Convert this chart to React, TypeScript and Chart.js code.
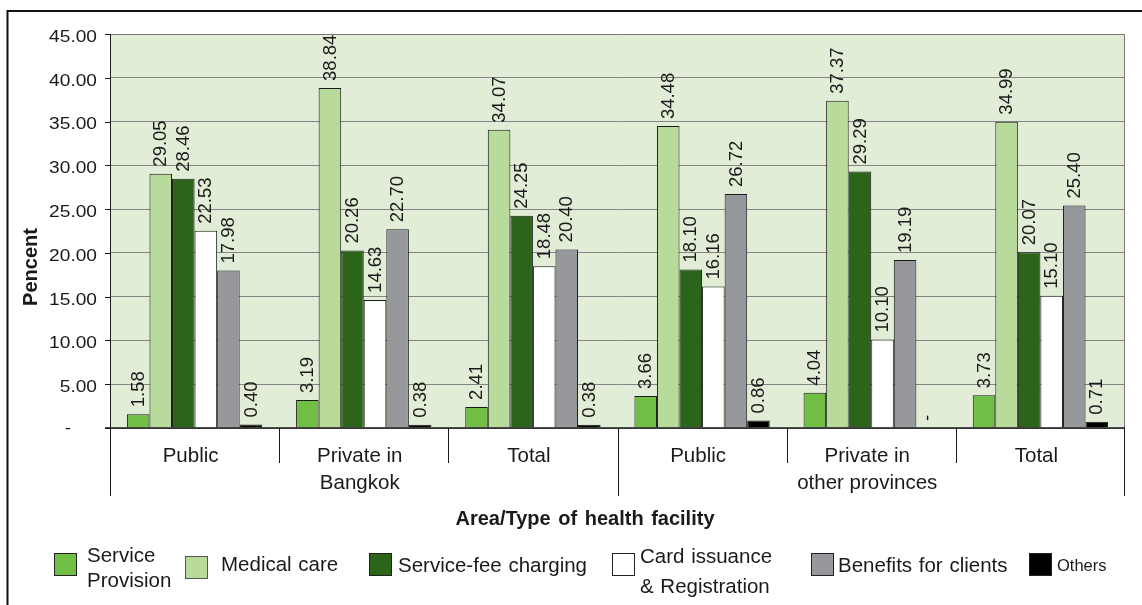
import React, { useEffect, useRef } from "react";
import { Chart, registerables } from "chart.js";

Chart.register(...registerables);

// ---------- data ----------
const CATEGORIES = [
  "Public",
  "Private in Bangkok",
  "Total",
  "Public",
  "Private in other provinces",
  "Total",
];
const CATEGORY_LINES = [
  ["Public"],
  ["Private in", "Bangkok"],
  ["Total"],
  ["Public"],
  ["Private in", "other provinces"],
  ["Total"],
];
const GROUP_BOUNDARIES = [0, 3, 6];

const SERIES_NAMES = [
  "Service Provision",
  "Medical care",
  "Service-fee charging",
  "Card issuance & Registration",
  "Benefits for clients",
  "Others",
];
const LEGEND_LINES = [
  ["Service", "Provision"],
  ["Medical care"],
  ["Service-fee charging"],
  ["Card issuance", "& Registration"],
  ["Benefits for clients"],
  ["Others"],
];

const SERVICE_PROVISION = [1.58, 3.19, 2.41, 3.66, 4.04, 3.73];
const MEDICAL_CARE = [29.05, 38.84, 34.07, 34.48, 37.37, 34.99];
const SERVICE_FEE = [28.46, 20.26, 24.25, 18.1, 29.29, 20.07];
const CARD_ISSUANCE = [22.53, 14.63, 18.48, 16.16, 10.1, 15.1];
const BENEFITS = [17.98, 22.7, 20.4, 26.72, 19.19, 25.4];
const OTHERS = [0.4, 0.38, 0.38, 0.86, 0, 0.71];

const Y_TICKS = [0, 5, 10, 15, 20, 25, 30, 35, 40, 45];
const Y_TITLE = "Pencent";
const X_TITLE = "Area/Type of health facility";

// ---------- styles ----------
const COLORS = ["#71BE45", "#B8DA9B", "#2C6419", "#FFFFFF", "#97989B", "#000000"];
const FONT = '"Liberation Sans", Arial, Helvetica, sans-serif';
const PLOT_BG = "#E1EDD6";
const GRID = "#858585";
const INK = "#1a1a1a";

// legend layout (box x, box y, text x, text cap-centre ys, font size)
const LEGEND_LAYOUT = [
  { bx: 54, by: 553, tx: 87, ty: [555, 580], size: 20.5 },
  { bx: 185, by: 556, tx: 221, ty: [564], size: 20.5 },
  { bx: 369, by: 553, tx: 398, ty: [564.5], size: 20.5 },
  { bx: 612, by: 553, tx: 640, ty: [556, 586], size: 20.5 },
  { bx: 811, by: 553, tx: 838, ty: [564.5], size: 20.5 },
  { bx: 1029, by: 553, tx: 1057, ty: [565], size: 16.5 },
];

function text(
  ctx: CanvasRenderingContext2D,
  s: string,
  x: number,
  capCenterY: number,
  size: number,
  opts: { bold?: boolean; align?: CanvasTextAlign; hscale?: number; color?: string; wordSpacing?: string } = {}
) {
  ctx.save();
  ctx.font = `${opts.bold ? "bold " : ""}${size}px ${FONT}`;
  ctx.fillStyle = opts.color || INK;
  ctx.textAlign = opts.align || "left";
  ctx.textBaseline = "alphabetic";
  if (opts.wordSpacing) (ctx as any).wordSpacing = opts.wordSpacing;
  ctx.translate(x, capCenterY + 0.358 * size);
  if (opts.hscale) ctx.scale(opts.hscale, 1);
  ctx.fillText(s, 0, 0);
  ctx.restore();
}

const decorPlugin = {
  id: "decor",
  beforeDraw(chart: any) {
    const { ctx, chartArea } = chart;
    ctx.save();
    ctx.fillStyle = PLOT_BG;
    ctx.fillRect(chartArea.left, chartArea.top, chartArea.right - chartArea.left, chartArea.bottom - chartArea.top);
    ctx.restore();
  },
  afterDraw(chart: any) {
    const { ctx, chartArea } = chart;
    const { left, right, top, bottom } = chartArea;
    const xs = chart.scales.x;
    const ys = chart.scales.y;

    ctx.save();
    // plot border top/right (gray)
    ctx.strokeStyle = "#7a7a7a";
    ctx.lineWidth = 1;
    ctx.beginPath();
    ctx.moveTo(left, top + 0.5);
    ctx.lineTo(right - 0.5, top + 0.5);
    ctx.lineTo(right - 0.5, bottom);
    ctx.stroke();

    // left axis + y ticks
    ctx.strokeStyle = INK;
    ctx.beginPath();
    ctx.moveTo(left + 0.5, top);
    ctx.lineTo(left + 0.5, bottom);
    ctx.stroke();
    Y_TICKS.forEach((v) => {
      const py = Math.round(ys.getPixelForValue(v)) + 0.5;
      ctx.beginPath();
      ctx.moveTo(left - 5, py);
      ctx.lineTo(left, py);
      ctx.stroke();
    });

    // category separators
    const n = CATEGORIES.length;
    for (let i = 0; i <= n; i++) {
      let px: number;
      if (i === 0) px = left;
      else if (i === n) px = right - 1;
      else px = (xs.getPixelForValue(i - 1) + xs.getPixelForValue(i)) / 2;
      px = Math.round(px) + 0.5;
      const isGroup = GROUP_BOUNDARIES.includes(i);
      ctx.beginPath();
      ctx.moveTo(px, bottom);
      ctx.lineTo(px, bottom + (isGroup ? 68 : 35));
      ctx.stroke();
    }

    // x axis line
    ctx.lineWidth = 1.5;
    ctx.beginPath();
    ctx.moveTo(left - 5, bottom);
    ctx.lineTo(right, bottom);
    ctx.stroke();
    ctx.restore();

    // y tick labels
    Y_TICKS.forEach((v) => {
      const py = ys.getPixelForValue(v);
      if (v === 0) {
        text(ctx, "-", 68, py - 1, 16.5, { align: "center", hscale: 1.15 });
      } else {
        text(ctx, v.toFixed(2), 97, py + 2, 16.5, { align: "right", hscale: 1.16 });
      }
    });

    // category labels
    CATEGORY_LINES.forEach((lines, i) => {
      const cx = xs.getPixelForValue(i);
      lines.forEach((ln, j) => {
        text(ctx, ln, cx - 4, 455 + j * 27, 20.5, { align: "center" });
      });
    });

    // axis titles
    ctx.save();
    ctx.translate(37, 267);
    ctx.rotate(-Math.PI / 2);
    ctx.font = `bold 20px ${FONT}`;
    ctx.fillStyle = INK;
    ctx.textAlign = "center";
    ctx.textBaseline = "alphabetic";
    ctx.fillText(Y_TITLE, 0, 0);
    ctx.restore();
    text(ctx, X_TITLE, 585, 518, 20, { bold: true, align: "center", wordSpacing: "2px" });

    // data labels
    const dsize = 18.5;
    chart.data.datasets.forEach((ds: any, di: number) => {
      const meta = chart.getDatasetMeta(di);
      meta.data.forEach((el: any, i: number) => {
        const v = ds.data[i];
        const label = v === 0 ? "-" : v.toFixed(2);
        ctx.save();
        ctx.translate(el.x + 0.358 * dsize - 1, el.y - 7);
        ctx.rotate(-Math.PI / 2);
        ctx.font = `${dsize}px ${FONT}`;
        ctx.fillStyle = INK;
        ctx.textAlign = "left";
        ctx.textBaseline = "alphabetic";
        ctx.fillText(label, 0, 0);
        ctx.restore();
      });
    });

    // legend
    LEGEND_LINES.forEach((lines, i) => {
      const L = LEGEND_LAYOUT[i];
      ctx.save();
      ctx.fillStyle = COLORS[i];
      ctx.fillRect(L.bx, L.by, 23, 23);
      ctx.strokeStyle = i === 1 ? "#555" : "#222";
      ctx.lineWidth = 1;
      ctx.strokeRect(L.bx + 0.5, L.by + 0.5, 22, 22);
      ctx.restore();
      lines.forEach((ln, j) => {
        text(ctx, ln, L.tx, L.ty[j], L.size, { wordSpacing: "1px" });
      });
    });

    // outer frame (left and top)
    ctx.save();
    ctx.strokeStyle = "#111";
    ctx.lineWidth = 2;
    ctx.beginPath();
    ctx.moveTo(7.5, 605);
    ctx.lineTo(7.5, 11);
    ctx.lineTo(1142, 11);
    ctx.stroke();
    ctx.restore();
  },
};

export default function App() {
  const ref = useRef<HTMLCanvasElement | null>(null);

  useEffect(() => {
    if (!ref.current) return;
    const seriesValues = [SERVICE_PROVISION, MEDICAL_CARE, SERVICE_FEE, CARD_ISSUANCE, BENEFITS, OTHERS];
    const chart = new Chart(ref.current, {
      type: "bar",
      data: {
        labels: CATEGORIES,
        datasets: SERIES_NAMES.map((name, i) => ({
          label: name,
          data: seriesValues[i],
          backgroundColor: COLORS[i],
          borderColor: "#1a1a1a",
          borderWidth: 1,
          categoryPercentage: 0.8,
          barPercentage: 1.0,
        })),
      },
      options: {
        responsive: false,
        devicePixelRatio: 1,
        animation: false,
        layout: { padding: { left: 0, top: 34, right: 17, bottom: 0 } },
        plugins: {
          legend: { display: false },
          tooltip: { enabled: false },
          title: { display: false },
        },
        scales: {
          x: {
            type: "category",
            grid: { display: false },
            border: { display: false },
            ticks: { display: false },
            afterFit: (s: any) => {
              s.height = 177;
            },
          },
          y: {
            min: 0,
            max: 45,
            ticks: { display: false, stepSize: 5 },
            grid: { color: GRID, lineWidth: 1, drawTicks: false },
            border: { display: false },
            afterFit: (s: any) => {
              s.width = 110;
            },
          },
        },
      },
      plugins: [decorPlugin],
    });
    return () => chart.destroy();
  }, []);

  return (
    <div style={{ position: "absolute", left: 0, top: 0, width: 1142, height: 605, background: "#fff" }}>
      <canvas ref={ref} width={1142} height={605} style={{ display: "block" }} />
    </div>
  );
}
